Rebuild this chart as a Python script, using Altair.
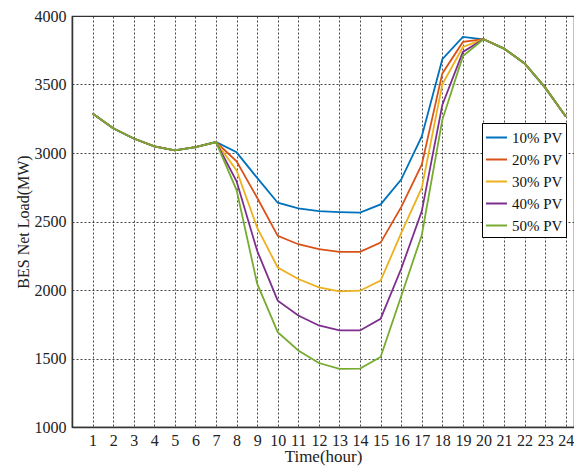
import altair as alt
import pandas as pd

hours = list(range(1, 25))
series_names = ["10% PV", "20% PV", "30% PV", "40% PV", "50% PV"]
colors = ["#0072BD", "#D95319", "#EDB120", "#7E2F8E", "#77AC30"]

pv10 = [3288, 3181, 3106, 3048, 3019, 3043, 3080, 3005, 2818, 2637, 2596, 2576,
        2569, 2565, 2625, 2806, 3121, 3685, 3847, 3830, 3762, 3653, 3477, 3266]
pv20 = [3288, 3181, 3106, 3048, 3019, 3043, 3080, 2939, 2673, 2395, 2334, 2298,
        2278, 2278, 2346, 2605, 2915, 3581, 3811, 3830, 3762, 3653, 3477, 3266]
pv30 = [3288, 3181, 3106, 3048, 3019, 3043, 3080, 2872, 2455, 2164, 2080, 2019,
        1990, 1995, 2068, 2415, 2745, 3501, 3774, 3830, 3762, 3653, 3477, 3266]
pv40 = [3288, 3181, 3106, 3048, 3019, 3043, 3080, 2794, 2286, 1922, 1814, 1741,
        1705, 1705, 1789, 2155, 2574, 3351, 3738, 3830, 3762, 3653, 3477, 3266]
pv50 = [3288, 3181, 3106, 3048, 3019, 3043, 3080, 2729, 2046, 1692, 1559, 1467,
        1424, 1426, 1511, 1955, 2400, 3242, 3707, 3830, 3762, 3653, 3477, 3266]
y_ticks = [1000, 1500, 2000, 2500, 3000, 3500, 4000]

all_series = [pv10, pv20, pv30, pv40, pv50]
rows = []
for i, (name, vals) in enumerate(zip(series_names, all_series)):
    for h, v in zip(hours, vals):
        rows.append({"hour": h, "load": v, "series": name, "order": i})
df = pd.DataFrame(rows)

font = "Liberation Serif"

chart = alt.Chart(df).mark_line(strokeWidth=1.8).encode(
    x=alt.X("hour:Q",
            scale=alt.Scale(domain=[0, 24.4], nice=False, zero=False),
            axis=alt.Axis(values=hours, title="Time(hour)", ticks=False,
                          labelPadding=5, titleFontSize=17, titlePadding=0,
                          labelFontSize=16, labelFlush=False,
                          labelFont=font, titleFont=font)),
    y=alt.Y("load:Q",
            scale=alt.Scale(domain=[1000, 4000], nice=False, zero=False),
            axis=alt.Axis(values=y_ticks, format="d",
                          title="BES Net Load(MW)", ticks=False, labelPadding=6,
                          titleFontSize=16, titlePadding=3, labelFontSize=16,
                          labelFont=font, titleFont=font)),
    color=alt.Color("series:N",
                    scale=alt.Scale(domain=series_names, range=colors),
                    legend=alt.Legend(title=None, orient="none", legendX=410, legendY=107,
                                      symbolType="stroke", symbolStrokeWidth=2,
                                      symbolSize=441, labelFontSize=15, labelFont=font,
                                      labelColor="#111", symbolOffset=0,
                                      strokeColor="black", fillColor="white",
                                      padding=3, rowPadding=2, labelLimit=200)),
    order=alt.Order("order:Q"),
).properties(
    width=502, height=411, autosize="none",
    padding={"left": 64, "top": 8, "right": 0, "bottom": 39},
).configure_view(
    stroke="#333", strokeWidth=1.2
).configure_axis(
    labelColor="#222", titleColor="#222",
    titleFontWeight="normal", domainColor="#333", domainWidth=1.5,
    gridColor="#333", gridDash=[2, 2], gridOpacity=0.9, gridWidth=1
)

chart.save("out.html", embed_options={"renderer": "svg", "actions": False})
